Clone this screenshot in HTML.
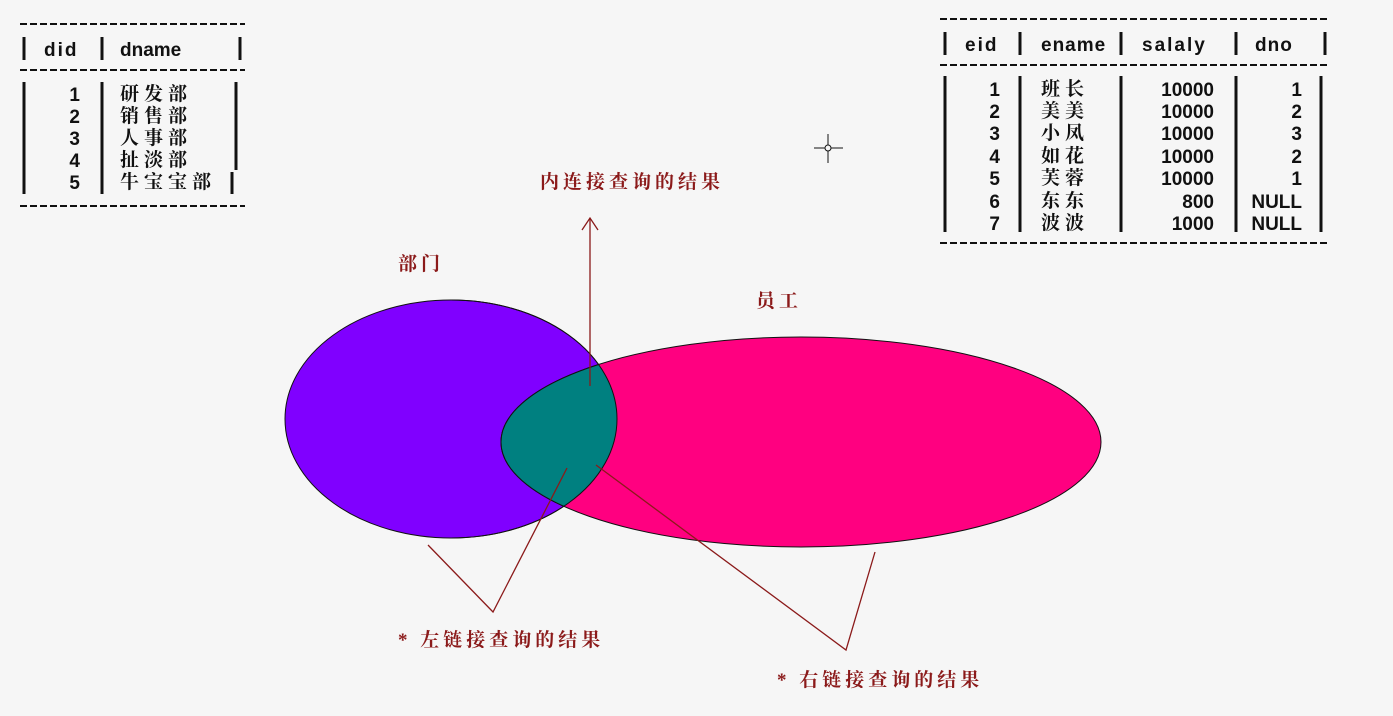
<!DOCTYPE html>
<html><head><meta charset="utf-8"><style>
html,body{margin:0;padding:0;background:#f6f6f6;}
svg{display:block;}
.t{font-family:"Liberation Sans","Noto Sans CJK SC",sans-serif;font-weight:bold;font-size:19px;fill:#111;}
.c{font-family:"Liberation Serif","Noto Serif CJK SC",serif;font-weight:bold;font-size:19px;fill:#111;}
.lab{font-family:"Liberation Serif","Noto Serif CJK SC",serif;font-weight:bold;font-size:19px;fill:#8b1a1a;letter-spacing:4px;}
.dash{stroke:#111;stroke-width:2;stroke-dasharray:7 3;}
.bar{stroke:#111;stroke-width:3;}
</style></head><body>
<svg width="1393" height="716" viewBox="0 0 1393 716">
<defs>
<clipPath id="clipA"><ellipse cx="451" cy="419" rx="166" ry="119"/></clipPath>
</defs>
<g>
<line class="dash" x1="20" y1="24" x2="245" y2="24"/>
<line class="dash" x1="20" y1="70" x2="245" y2="70"/>
<line class="dash" x1="20" y1="206" x2="245" y2="206"/>
<line class="bar" x1="24" y1="37" x2="24" y2="60"/><line class="bar" x1="102" y1="37" x2="102" y2="60"/><line class="bar" x1="240" y1="37" x2="240" y2="60"/>
<line class="bar" x1="24" y1="82" x2="24" y2="194"/><line class="bar" x1="102" y1="82" x2="102" y2="194"/><line class="bar" x1="236" y1="82" x2="236" y2="170"/><line class="bar" x1="232" y1="172" x2="232" y2="194"/>
<text class="t" x="44" y="56" letter-spacing="2">did</text>
<text class="t" x="120" y="56">dname</text>
<g text-anchor="end"><text class="t" x="80" y="101">1</text><text class="t" x="80" y="123">2</text><text class="t" x="80" y="145">3</text><text class="t" x="80" y="167">4</text><text class="t" x="80" y="189">5</text></g>
<g letter-spacing="5"><text class="c" x="120" y="100">研发部</text><text class="c" x="120" y="122">销售部</text><text class="c" x="120" y="144">人事部</text><text class="c" x="120" y="166">扯淡部</text><text class="c" x="120" y="188">牛宝宝部</text></g>
</g>
<g>
<line class="dash" x1="940" y1="19" x2="1330" y2="19"/>
<line class="dash" x1="940" y1="65" x2="1330" y2="65"/>
<line class="dash" x1="940" y1="243" x2="1330" y2="243"/>
<g>
<line class="bar" x1="945" y1="32" x2="945" y2="55"/><line class="bar" x1="1020" y1="32" x2="1020" y2="55"/><line class="bar" x1="1121" y1="32" x2="1121" y2="55"/><line class="bar" x1="1236" y1="32" x2="1236" y2="55"/><line class="bar" x1="1325" y1="32" x2="1325" y2="55"/>
<line class="bar" x1="945" y1="76" x2="945" y2="232"/><line class="bar" x1="1020" y1="76" x2="1020" y2="232"/><line class="bar" x1="1121" y1="76" x2="1121" y2="232"/><line class="bar" x1="1236" y1="76" x2="1236" y2="232"/><line class="bar" x1="1321" y1="76" x2="1321" y2="232"/>
</g>
<text class="t" x="965" y="51" letter-spacing="2">eid</text>
<text class="t" x="1041" y="51" letter-spacing="1">ename</text>
<text class="t" x="1142" y="51" letter-spacing="2">salaly</text>
<text class="t" x="1255" y="51" letter-spacing="1">dno</text>
<g text-anchor="end">
<text class="t" x="1000" y="96">1</text><text class="t" x="1000" y="118">2</text><text class="t" x="1000" y="140">3</text><text class="t" x="1000" y="163">4</text><text class="t" x="1000" y="185">5</text><text class="t" x="1000" y="208">6</text><text class="t" x="1000" y="230">7</text>
<text class="t" x="1214" y="96">10000</text><text class="t" x="1214" y="118">10000</text><text class="t" x="1214" y="140">10000</text><text class="t" x="1214" y="163">10000</text><text class="t" x="1214" y="185">10000</text><text class="t" x="1214" y="208">800</text><text class="t" x="1214" y="230">1000</text>
<text class="t" x="1302" y="96">1</text><text class="t" x="1302" y="118">2</text><text class="t" x="1302" y="140">3</text><text class="t" x="1302" y="163">2</text><text class="t" x="1302" y="185">1</text><text class="t" x="1302" y="208">NULL</text><text class="t" x="1302" y="230">NULL</text>
</g>
<g letter-spacing="5"><text class="c" x="1041" y="95">班长</text><text class="c" x="1041" y="117">美美</text><text class="c" x="1041" y="139">小凤</text><text class="c" x="1041" y="162">如花</text><text class="c" x="1041" y="184">芙蓉</text><text class="c" x="1041" y="207">东东</text><text class="c" x="1041" y="229">波波</text></g>
</g>
<g stroke="#111" stroke-width="1">
<line x1="814" y1="148" x2="843" y2="148"/><line x1="828" y1="134" x2="828" y2="163"/>
<circle cx="828" cy="148" r="3" fill="#f6f6f6"/>
</g>
<ellipse cx="451" cy="419" rx="166" ry="119" fill="#8000ff" stroke="#111" stroke-width="1"/>
<ellipse cx="801" cy="442" rx="300" ry="105" fill="#ff0080" stroke="#111" stroke-width="1"/>
<ellipse clip-path="url(#clipA)" cx="801" cy="442" rx="300" ry="105" fill="#008080" stroke="#111" stroke-width="1"/>
<path d="M451 300 A166 119 0 0 1 617 419 A166 119 0 0 1 451 538" fill="none" stroke="#111" stroke-width="1"/>
<g stroke="#8b1a1a" stroke-width="1.3" fill="none">
<line x1="590" y1="386" x2="590" y2="218"/>
<polyline points="582,230 590,218 598,230"/>
<polyline points="428,545 493,612 567,468"/>
<polyline points="596,465 846,650 875,552"/>
</g>
<text class="lab" x="540" y="188">内连接查询的结果</text>
<text class="lab" x="398" y="270">部门</text>
<text class="lab" x="756" y="307">员工</text>
<text class="lab" x="398" y="646">* 左链接查询的结果</text>
<text class="lab" x="777" y="686">* 右链接查询的结果</text>
</svg>
</body></html>
